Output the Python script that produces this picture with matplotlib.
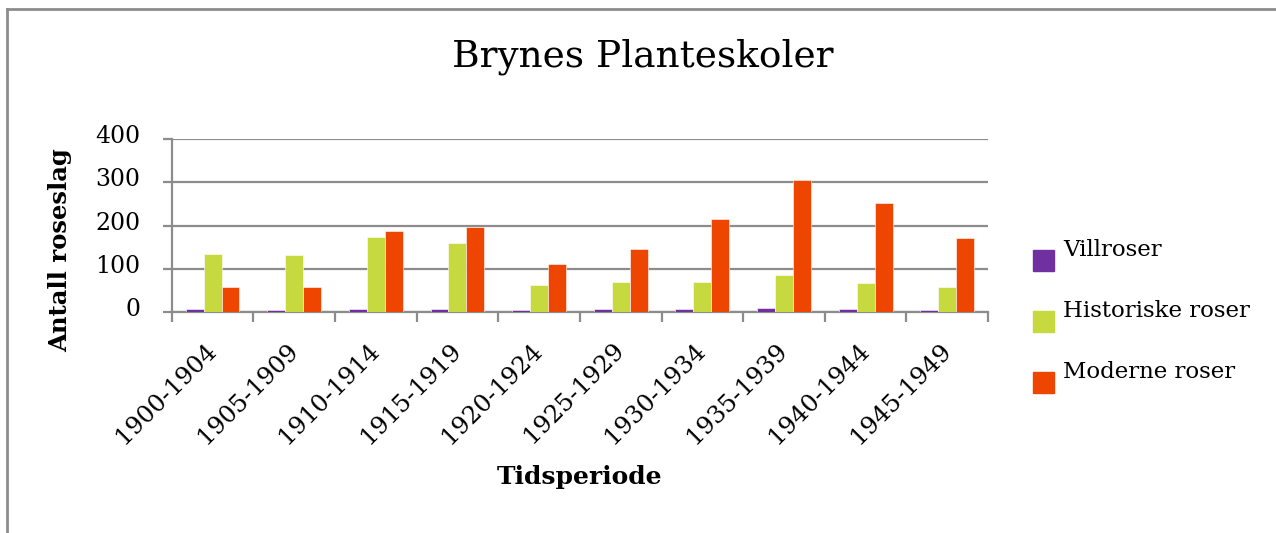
import matplotlib
matplotlib.use("Agg")
import matplotlib.pyplot as plt
import matplotlib.transforms as mtransforms
from matplotlib.patches import Rectangle
from matplotlib.lines import Line2D
import numpy as np

# data
perioder = ["1900-1904", "1905-1909", "1910-1914", "1915-1919", "1920-1924",
            "1925-1929", "1930-1934", "1935-1939", "1940-1944", "1945-1949"]
villroser = [6, 5, 8, 8, 4, 8, 7, 9, 7, 5]
historiske = [134, 133, 174, 161, 63, 70, 70, 85, 67, 58]
moderne = [57, 57, 187, 196, 111, 146, 215, 305, 253, 172]

serie_navn = ["Villroser", "Historiske roser", "Moderne roser"]
farger = ["#7030A0", "#C6D93F", "#EE4500"]
yticks = [0, 100, 200, 300, 400]

plt.rcParams['font.family'] = ['DejaVu Serif']
grå = "#8C8C8C"

fig = plt.figure(figsize=(12.76, 5.33), dpi=100)
ax = fig.add_axes([0.1346, 0.4146, 0.6397, 0.324])

x = np.arange(len(perioder))
bredde = 0.22
for i, (verdier, farge) in enumerate(zip([villroser, historiske, moderne], farger)):
    ax.bar(x + (i - 1) * bredde, verdier, width=bredde, color=farge,
           edgecolor="#FFFFFF", linewidth=0.4, zorder=3)

ax.set_xlim(-0.5, len(perioder) - 0.5)
ax.set_ylim(0, 400)
ax.set_yticks(yticks)
ax.set_yticklabels([str(v) for v in yticks], fontsize=17)
ax.yaxis.grid(True, color=grå, linewidth=1.6, zorder=0)
ax.tick_params(axis='y', length=6.5, width=1.6, color=grå, pad=16)

ax.set_xticks(np.arange(len(perioder) + 1) - 0.5)
ax.set_xticklabels([])
ax.set_xticks(x, minor=True)
ax.set_xticklabels(perioder, minor=True, rotation=45, ha='right',
                   va='center', rotation_mode='anchor', fontsize=17.5)
ax.tick_params(axis='x', which='major', length=7.5, width=1.6, color=grå)
ax.tick_params(axis='x', which='minor', length=0, pad=25)

for side in ['top', 'right']:
    ax.spines[side].set_visible(False)
for side in ['left', 'bottom']:
    ax.spines[side].set_color(grå)
    ax.spines[side].set_linewidth(1.6)

# y labels sit slightly above their gridlines in the original
flytt = mtransforms.ScaledTranslation(0, 5 / 100, fig.dpi_scale_trans)
for lbl in ax.get_yticklabels():
    lbl.set_transform(lbl.get_transform() + flytt)

fig.text(0.504, 0.893, "Brynes Planteskoler", fontsize=27, ha='center', va='center')
fig.text(0.047, 0.531, "Antall roseslag", fontsize=17.5, fontweight='bold',
         rotation=90, ha='center', va='center')
fig.text(0.4545, 0.105, "Tidsperiode", fontsize=18, fontweight='bold',
         ha='center', va='center')

# legend drawn by hand
for i, (navn, farge) in enumerate(zip(serie_navn, farger)):
    yc = 533 - (260 + i * 61)
    fig.patches.append(Rectangle((1033 / 1276, (yc - 10.5) / 533), 21 / 1276, 21 / 533,
                                 transform=fig.transFigure, color=farge))
    fig.text(1063 / 1276, (yc + 10) / 533, navn, fontsize=16.5, ha='left', va='center')

# chart frame: top and left edge only
fig.add_artist(Line2D([7 / 1276, 7 / 1276], [0, 1 - 9 / 533], color=grå,
                      linewidth=2, transform=fig.transFigure))
fig.add_artist(Line2D([7 / 1276, 1], [1 - 9 / 533, 1 - 9 / 533], color=grå,
                      linewidth=2, transform=fig.transFigure))

fig.savefig("out.png", dpi=100, facecolor="white")
